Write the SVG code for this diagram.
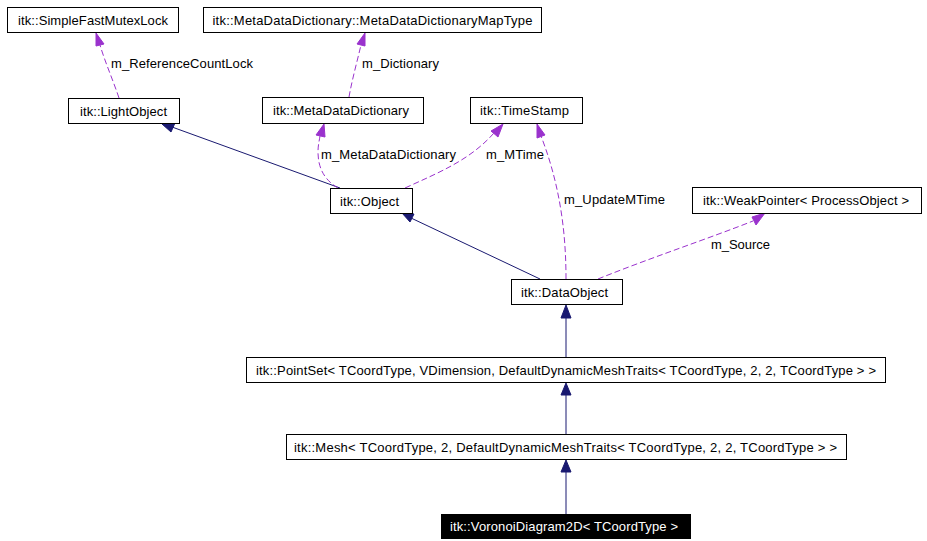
<svg xmlns="http://www.w3.org/2000/svg" width="927" height="541" viewBox="0 0 927 541">
<style>
  .box{fill:#fff;stroke:#000;stroke-width:1}
  .t{font-family:"Liberation Sans",Arial,sans-serif;font-size:13px;fill:#000;text-anchor:middle}
  .lbl{font-family:"Liberation Sans",Arial,sans-serif;font-size:13px;fill:#000}
  .inh{fill:none;stroke:#191970;stroke-width:1}
  .use{fill:none;stroke:#9a32cd;stroke-width:1;stroke-dasharray:6,3}
  .ah{fill:#191970;stroke:#191970}
  .ap{fill:#9a32cd;stroke:#9a32cd}
</style>
<rect width="927" height="541" fill="#fff"/>
<g id="connectors">
  <!-- inheritance -->
  <path class="inh" d="M340,188 L172,127"/>
  <polygon class="ah" points="162,124 175,123 171,132"/>
  <path class="inh" d="M540,279 L411,218"/>
  <polygon class="ah" points="402,213 414,214 410,222"/>
  <path class="inh" d="M566,357 L566,316"/>
  <polygon class="ah" points="566,305 571,318 561,318"/>
  <path class="inh" d="M566,434 L566,394"/>
  <polygon class="ah" points="566,383 571,395 561,395"/>
  <path class="inh" d="M566,514 L566,471"/>
  <polygon class="ah" points="566,460 571,472 561,472"/>
  <!-- usage -->
  <path class="use" d="M119,98 C113,80 105,62 100,45"/>
  <polygon class="ap" points="96,33 104,44 96,46"/>
  <path class="use" d="M349,97 C352,80 357,62 361,45"/>
  <polygon class="ap" points="365,33 365,46 357,44"/>
  <path class="use" d="M338,188 C328,182 318,172 318,152 C318,146 319,142 320,136"/>
  <polygon class="ap" points="324,124 325,137 316,135"/>
  <path class="use" d="M405,188 C440,172 470,160 494,133"/>
  <polygon class="ap" points="503,124 498,137 491,131"/>
  <path class="use" d="M566,279 C566,240 562,190 541,136"/>
  <polygon class="ap" points="537,124 545,135 537,138"/>
  <path class="use" d="M598,279 C650,258 710,238 753,221"/>
  <polygon class="ap" points="765,213 756,225 752,217"/>
</g>
<g id="label-refcount"><text class="lbl" x="111" y="68" textLength="142">m_ReferenceCountLock</text></g>
<g id="label-dictionary"><text class="lbl" x="362" y="68" textLength="77">m_Dictionary</text></g>
<g id="label-mdd"><text class="lbl" x="321" y="159" textLength="135">m_MetaDataDictionary</text></g>
<g id="label-mtime"><text class="lbl" x="486" y="159" textLength="58">m_MTime</text></g>
<g id="label-updatemtime"><text class="lbl" x="564" y="204" textLength="101">m_UpdateMTime</text></g>
<g id="label-source"><text class="lbl" x="711" y="249" textLength="59">m_Source</text></g>

<g id="node-SimpleFastMutexLock"><rect class="box" x="7.5" y="7.5" width="171" height="25"/><text class="t" x="93" y="24.5" textLength="150">itk::SimpleFastMutexLock</text></g>
<g id="node-MetaDataDictionaryMapType"><rect class="box" x="203.5" y="7.5" width="338" height="25"/><text class="t" x="372.5" y="24.5" textLength="320">itk::MetaDataDictionary::MetaDataDictionaryMapType</text></g>
<g id="node-LightObject"><rect class="box" x="68.5" y="98.5" width="111" height="25"/><text class="t" x="123.5" y="115.5" textLength="87">itk::LightObject</text></g>
<g id="node-MetaDataDictionary"><rect class="box" x="262.5" y="97.5" width="161" height="26"/><text class="t" x="341" y="115" textLength="136">itk::MetaDataDictionary</text></g>
<g id="node-TimeStamp"><rect class="box" x="470.5" y="97.5" width="112" height="26"/><text class="t" x="524.5" y="115" textLength="89">itk::TimeStamp</text></g>
<g id="node-Object"><rect class="box" x="330.5" y="188.5" width="82" height="25"/><text class="t" x="369.5" y="205.5" textLength="59">itk::Object</text></g>
<g id="node-WeakPointer"><rect class="box" x="692.5" y="187.5" width="229" height="26"/><text class="t" x="806" y="205" textLength="206">itk::WeakPointer&lt; ProcessObject &gt;</text></g>
<g id="node-DataObject"><rect class="box" x="511.5" y="279.5" width="111" height="25"/><text class="t" x="564.5" y="296.5" textLength="87">itk::DataObject</text></g>
<g id="node-PointSet"><rect class="box" x="246.5" y="357.5" width="639" height="25"/><text class="t" x="566" y="374.5" textLength="620">itk::PointSet&lt; TCoordType, VDimension, DefaultDynamicMeshTraits&lt; TCoordType, 2, 2, TCoordType &gt; &gt;</text></g>
<g id="node-Mesh"><rect class="box" x="286.5" y="434.5" width="560" height="25"/><text class="t" x="565.5" y="451.5" textLength="543">itk::Mesh&lt; TCoordType, 2, DefaultDynamicMeshTraits&lt; TCoordType, 2, 2, TCoordType &gt; &gt;</text></g>
<g id="node-VoronoiDiagram2D"><rect x="441" y="514" width="250" height="25" fill="#000"/><text class="t" x="564" y="531" textLength="228" style="fill:#fff">itk::VoronoiDiagram2D&lt; TCoordType &gt;</text></g>
</svg>
